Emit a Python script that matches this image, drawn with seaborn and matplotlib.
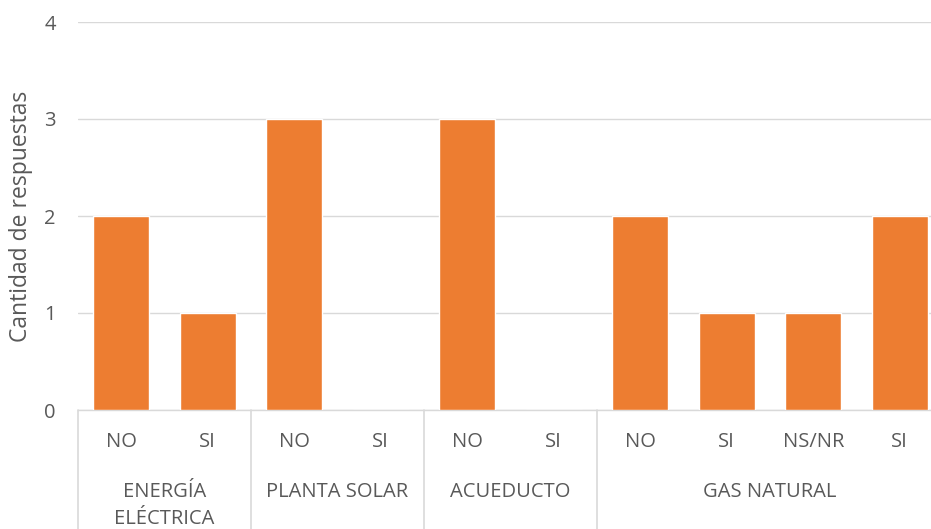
import matplotlib
matplotlib.use("Agg")
import matplotlib.pyplot as plt
import matplotlib.transforms as mtransforms
import seaborn as sns
import pandas as pd

groups = ["ENERGÍA\nELÉCTRICA", "ENERGÍA\nELÉCTRICA", "PLANTA SOLAR", "PLANTA SOLAR",
          "ACUEDUCTO", "ACUEDUCTO", "GAS NATURAL", "GAS NATURAL", "GAS NATURAL", "GAS NATURAL"]
answers = ["NO", "SI", "NO", "SI", "NO", "SI", "NO", "SI", "NS/NR", "SI"]
values = [2, 1, 3, 0, 3, 0, 2, 1, 1, 2]
group_names = ["ENERGÍA\nELÉCTRICA", "PLANTA SOLAR", "ACUEDUCTO", "GAS NATURAL"]
y_label = "Cantidad de respuestas"

sns.set_style("white")
plt.rcParams['font.family'] = ['Open Sans', 'DejaVu Sans']

TXT = "#595959"
GRID = "#D9D9D9"
BAR = "#ED7D31"
FS = 14.5

df = pd.DataFrame({"key": [f"{g}|{a}|{i}" for i, (g, a) in enumerate(zip(groups, answers))],
                   "value": values})

fig = plt.figure(figsize=(9.31, 5.29), dpi=100)
ax = fig.add_axes([78/931, 1 - 410/529, (943 - 78)/931, (410 - 22)/529])

sns.barplot(data=df, x="key", y="value", color=BAR, saturation=1, width=0.645, ax=ax, zorder=3)

ax.set_xlim(-0.5, len(values) - 0.5)
ax.set_ylim(0, 4)
ax.set_yticks([0, 1, 2, 3, 4])
ax.yaxis.grid(True, color=GRID, linewidth=1, zorder=0)
ax.set_axisbelow(True)
for s in ["top", "right", "left"]:
    ax.spines[s].set_visible(False)
ax.spines["bottom"].set_color(GRID)
ax.spines["bottom"].set_linewidth(1)

ax.set_xticks(range(len(values)))
ax.set_xticklabels(answers, fontsize=FS, color=TXT)
ax.tick_params(axis="x", length=0, pad=16)
ax.tick_params(axis="y", length=0, pad=16, labelsize=FS, labelcolor=TXT)
ax.set_xlabel("")
ax.set_ylabel(y_label, fontsize=16.5, color=TXT, labelpad=8)

trans = mtransforms.blended_transform_factory(ax.transData, ax.transAxes)
bounds = [-0.5]
pos = 0
centers = []
for g in group_names:
    n = groups.count(g)
    centers.append(pos + (n - 1) / 2)
    pos += n
    bounds.append(pos - 0.5)
for b in bounds:
    ax.plot([b, b], [0, -0.35], transform=trans, color=GRID, linewidth=1.2, clip_on=False)
for c, g in zip(centers, group_names):
    ax.text(c, -0.185, g, transform=trans, ha="center", va="top", fontsize=FS,
            color=TXT, linespacing=1.45)

fig.savefig("out.png", dpi=100)
